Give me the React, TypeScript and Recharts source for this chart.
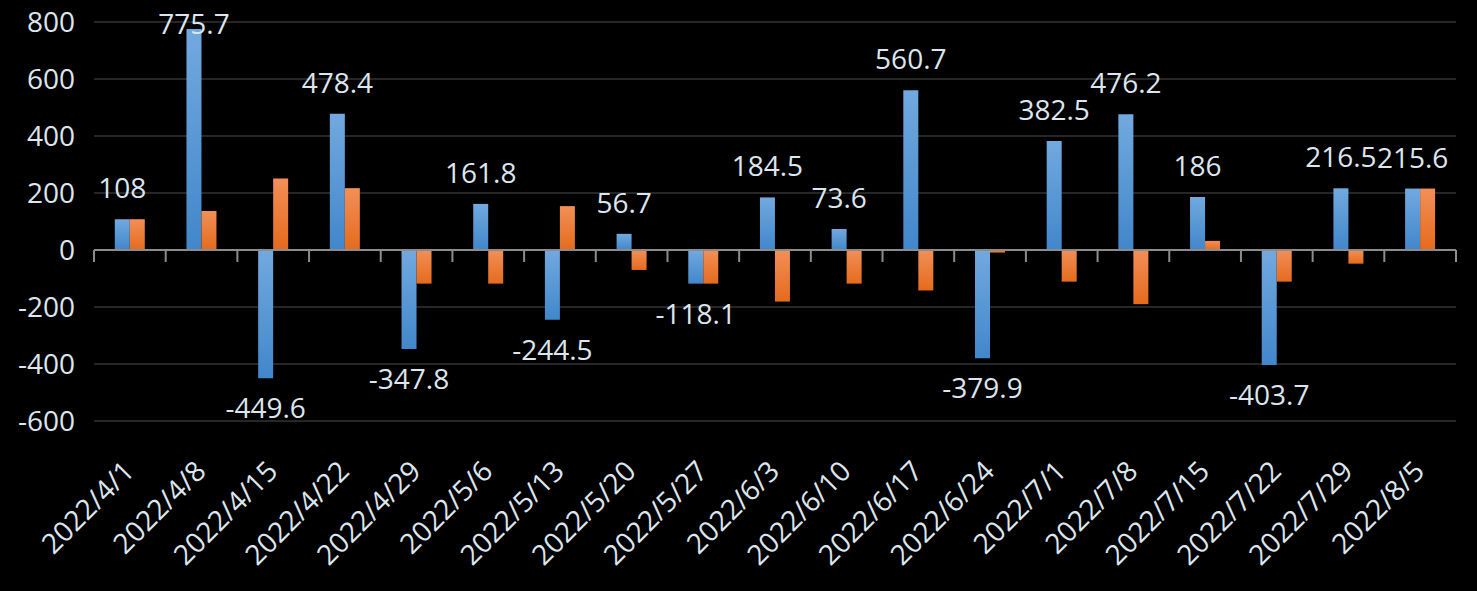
import { BarChart, Bar, XAxis, YAxis, CartesianGrid, ReferenceLine, LabelList } from "recharts";

const dates = [
  "2022/4/1", "2022/4/8", "2022/4/15", "2022/4/22", "2022/4/29", "2022/5/6", "2022/5/13",
  "2022/5/20", "2022/5/27", "2022/6/3", "2022/6/10", "2022/6/17", "2022/6/24", "2022/7/1",
  "2022/7/8", "2022/7/15", "2022/7/22", "2022/7/29", "2022/8/5",
];
const blueValues = [
  108, 775.7, -449.6, 478.4, -347.8, 161.8, -244.5, 56.7, -118.1, 184.5, 73.6, 560.7, -379.9,
  382.5, 476.2, 186, -403.7, 216.5, 215.6,
];
const orangeValues = [
  108, 137, 251, 217, -118, -118, 154, -70, -118.1, -181, -118, -142, -9, -111, -190, 32, -111,
  -48, 215.6,
];
const yTicks = [-600, -400, -200, 0, 200, 400, 600, 800];

const data = dates.map((date, i) => ({ date, blue: blueValues[i], orange: orangeValues[i] }));

const TEXT = "#dde6ee";
const FONT = "'Open Sans', 'Noto Sans', sans-serif";
const AXIS = "#8c8c8c";

const DateTick = (props: any) => {
  const { x, y, payload } = props;
  const ax = x + 6;
  const ay = y + 44;
  return (
    <text x={ax} y={ay} fill={TEXT} fontSize={28} fontFamily={FONT} textAnchor="end" transform={`rotate(-45, ${ax}, ${ay})`}>
      {payload.value}
    </text>
  );
};

const ValueLabel = (props: any) => {
  const { x, y, width, height, value } = props;
  const top = Math.min(y, y + height);
  const bottom = Math.max(y, y + height);
  let cy = value >= 0 ? top - 31 : bottom + 30;
  if (cy < 24) cy = 24;
  return (
    <text x={x + width / 2} y={cy} dy="0.36em" fill={TEXT} fontSize={28} fontFamily={FONT} textAnchor="middle">
      {value}
    </text>
  );
};

// zero line with the category-boundary tick marks hanging below it
const ZeroAxis = (props: any) => {
  const { x1, x2, y1 } = props;
  const step = (x2 - x1) / dates.length;
  const marks = [];
  for (let i = 0; i <= dates.length; i++) {
    const tx = x1 + step * i;
    marks.push(<line key={i} x1={tx} x2={tx} y1={y1} y2={y1 + 12} stroke={AXIS} strokeWidth={2} />);
  }
  return (
    <g>
      <line x1={x1} x2={x2} y1={y1} y2={y1} stroke={AXIS} strokeWidth={2} />
      {marks}
    </g>
  );
};

export default function App() {
  return (
    <div style={{ position: "absolute", left: 0, top: 0, width: 1477, height: 591, background: "#000" }}>
      <BarChart
        width={1477}
        height={591}
        data={data}
        margin={{ top: 22, right: 21, left: 0, bottom: 0 }}
        barCategoryGap="29%"
        barGap={0}
      >
        <defs>
          <linearGradient id="blueFill" x1="0" y1="0" x2="0" y2="1">
            <stop offset="0%" stopColor="#72a9df" />
            <stop offset="100%" stopColor="#4187cb" />
          </linearGradient>
          <linearGradient id="orangeFill" x1="0" y1="0" x2="0" y2="1">
            <stop offset="0%" stopColor="#f28f58" />
            <stop offset="100%" stopColor="#e56b1d" />
          </linearGradient>
        </defs>
        <CartesianGrid vertical={false} stroke="#262626" strokeWidth={2} />
        <XAxis
          dataKey="date"
          axisLine={false}
          tickLine={false}
          height={170}
          interval={0}
          tick={<DateTick />}
        />
        <YAxis
          domain={[-600, 800]}
          ticks={yTicks}
          width={94}
          axisLine={false}
          tickLine={false}
          tickMargin={13}
          tick={{ fill: TEXT, fontSize: 28, fontFamily: FONT }}
        />
        <Bar dataKey="blue" fill="url(#blueFill)" isAnimationActive={false}>
          <LabelList dataKey="blue" content={<ValueLabel />} />
        </Bar>
        <Bar dataKey="orange" fill="url(#orangeFill)" isAnimationActive={false} />
        <ReferenceLine y={0} shape={<ZeroAxis />} />
      </BarChart>
    </div>
  );
}
